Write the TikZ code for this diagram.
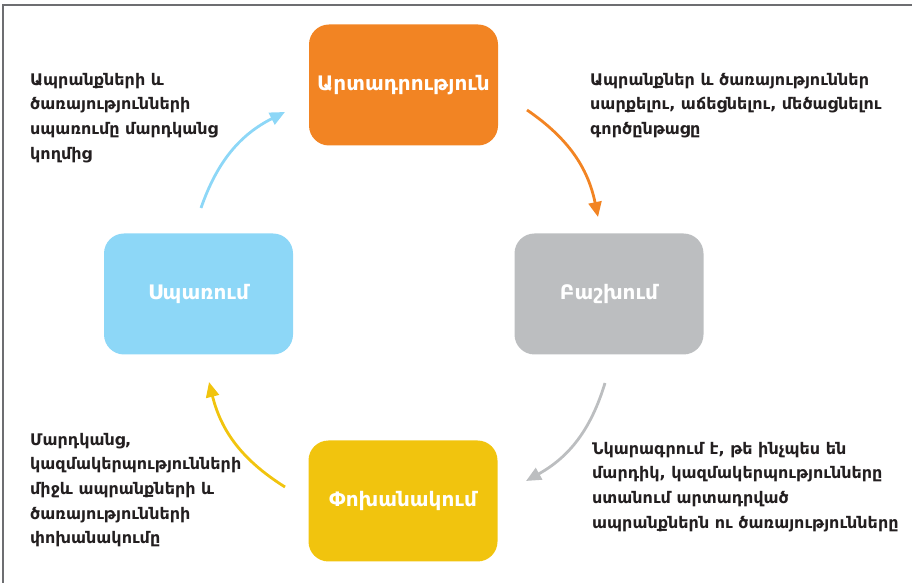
\documentclass[tikz,border=0pt]{standalone}
\usepackage{fontspec}
\usepackage{xcolor}
\usepackage{tikz}
\usetikzlibrary{arrows.meta}
\setmainfont{DejaVu Sans}
\definecolor{camcol}{HTML}{F28423}
\definecolor{xamcol}{HTML}{BCBEC0}
\definecolor{kapcol}{HTML}{8DD7F7}
\definecolor{dzhcol}{HTML}{F1C40E}
\definecolor{textcol}{HTML}{231F20}
\definecolor{framecol}{HTML}{6D6E71}

\begin{document}
\begin{tikzpicture}[x=1pt,y=1pt,
	box/.style={rounded corners=20pt, minimum width=189pt, minimum height=121pt,
		inner sep=0pt, text=white, font=\bfseries\fontsize{20}{24}\selectfont},
	note/.style={anchor=north west, inner sep=0pt, align=left, text=textcol,
		font=\bfseries\fontsize{16}{24.6}\selectfont},
	cycle/.style={line width=2.8pt, -{Triangle[length=15pt,width=13pt]}}]
			\useasboundingbox (0,0) rectangle (912,583);
			% Khung
			\draw [framecol, line width=2pt] (3,0) -- (3,577.5) -- (912,577.5);
			% Các ô
			\node [box, fill=camcol] (artadr) at (403.5,498) {Արտադրություն};
			\node [box, fill=xamcol] (bashx) at (609,289) {Բաշխում};
			\node [box, fill=kapcol] (spar) at (198.5,289) {Սպառում};
			\node [box, fill=dzhcol] (pox) at (403,82) {Փոխանակում};
			% Các mũi tên
			\coordinate (a1) at (527,473); \coordinate (a2) at (598,366);
			\coordinate (b1) at (605,200); \coordinate (b2) at (526,102);
			\coordinate (c1) at (285,96); \coordinate (c2) at (209,201);
			\coordinate (d1) at (201,375); \coordinate (d2) at (285,471);
			\draw [cycle, camcol] (a1) to [bend left=22] (a2);
			\draw [cycle, xamcol] (b1) to [bend left=22] (b2);
			\draw [cycle, dzhcol] (c1) to [bend left=22] (c2);
			\draw [cycle, kapcol] (d1) to [bend left=22] (d2);
			% Chú thích
			\node [note] (tl) at (30,510) {Ապրանքների և\\ծառայությունների\\սպառումը մարդկանց\\կողմից};
			\node [note] (tr) at (590,510) {Ապրանքներ և ծառայություններ\\սարքելու, աճեցնելու, մեծացնելու\\գործընթացը};
			\node [note] (bl) at (30,150) {Մարդկանց,\\կազմակերպությունների\\միջև ապրանքների և\\ծառայությունների\\փոխանակումը};
			\node [note] (br) at (592,141) {Նկարագրում է, թե ինչպես են\\մարդիկ, կազմակերպությունները\\ստանում արտադրված\\ապրանքներն ու ծառայությունները};
\end{tikzpicture}
\end{document}
